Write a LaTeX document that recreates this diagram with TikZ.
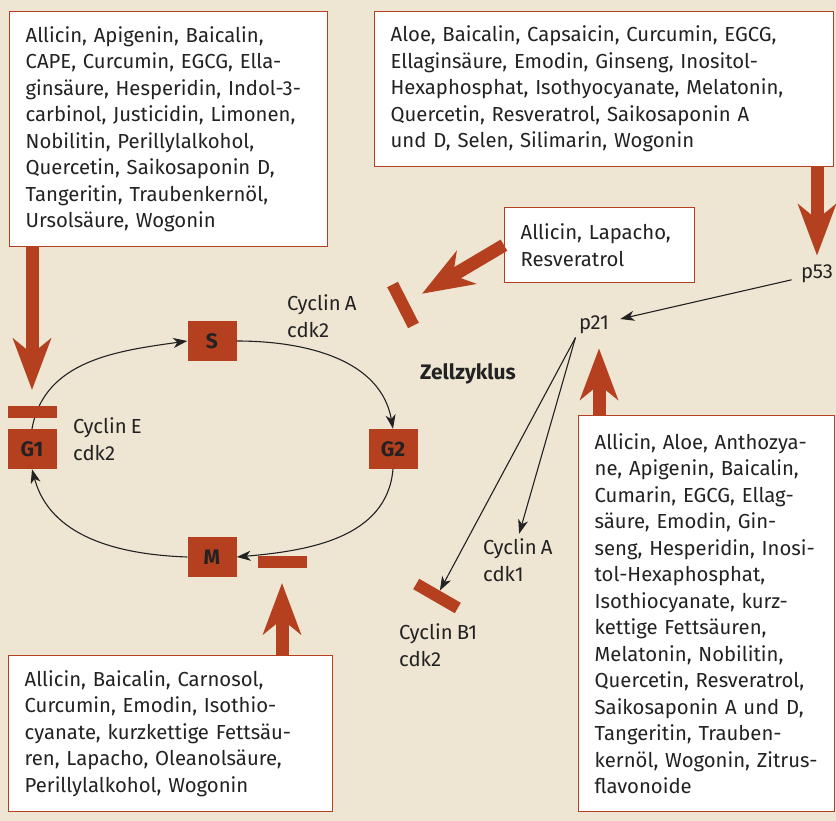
\documentclass[tikz,border=0pt]{standalone}
\usepackage{fontspec}
\setmainfont{Fira Sans}[WordSpace=0.75]
\usepackage{tikz}
\usetikzlibrary{arrows.meta}
\definecolor{zred}{HTML}{B5401F}
\definecolor{zbg}{HTML}{EEE6D3}
\definecolor{ztext}{HTML}{222222}

\begin{document}
\begin{tikzpicture}
  [x=1pt,y=1pt,
   every node/.style={text=ztext,font=\fontsize{20.3}{26.5}\selectfont},
   box/.style={draw=zred,line width=1.3pt,fill=white,anchor=north west,align=left,inner xsep=16pt,inner ysep=0pt},
   phase/.style={fill=zred,minimum width=49pt,minimum height=40pt,inner sep=0pt,font=\fontsize{21}{26}\selectfont\bfseries},
   bar/.style={fill=zred,minimum width=49pt,minimum height=12pt,inner sep=0pt},
   lbl/.style={align=left,anchor=west,inner sep=0pt},
   fat/.style={draw=zred,line width=13pt,-{Stealth[length=52pt,width=39pt,inset=16pt,line width=0pt]}},
   arr/.style={draw=ztext,line width=1.1pt,-{Stealth[length=14pt,width=10pt,inset=4pt]}}]
  \fill[zbg] (0,0) rectangle (836,-821);
  \useasboundingbox (0,0) rectangle (836,-821);
  % substance boxes
  \node[box,text width=286pt,minimum height=235pt] (w1) at (9,-11)
    {Allicin, Apigenin, Baicalin,\\CAPE, Curcumin, EGCG, Ella-\\ginsäure, Hesperidin, Indol-3-\\carbinol, Justicidin, Limonen,\\Nobilitin, Perillylalkohol,\\Quercetin, Saikosaponin D,\\Tangeritin, Traubenkernöl,\\Ursolsäure, Wogonin};
  \node[box,text width=427pt,minimum height=155pt] (w2) at (374,-11)
    {Aloe, Baicalin, Capsaicin, Curcumin, EGCG,\\Ellaginsäure, Emodin, Ginseng, Inositol-\\Hexaphosphat, Isothyocyanate, Melatonin,\\Quercetin, Resveratrol, Saikosaponin A\\und D, Selen, Silimarin, Wogonin};
  \node[box,text width=158pt,minimum height=75pt] (w3) at (504,-207)
    {Allicin, Lapacho,\\Resveratrol};
  \node[box,text width=224pt,minimum height=396pt] (w4) at (578,-415)
    {Allicin, Aloe, Anthozya-\\ne, Apigenin, Baicalin,\\Cumarin, EGCG, Ellag-\\säure, Emodin, Gin-\\seng, Hesperidin, Inosi-\\tol-Hexaphosphat,\\Isothiocyanate, kurz-\\kettige Fettsäuren,\\Melatonin, Nobilitin,\\Quercetin, Resveratrol,\\Saikosaponin A und D,\\Tangeritin, Trauben-\\kernöl, Wogonin, Zitrus-\\flavonoide};
  \node[box,text width=292pt,minimum height=156pt] (w5) at (8,-655)
    {Allicin, Baicalin, Carnosol,\\Curcumin, Emodin, Isothio-\\cyanate, kurzkettige Fettsäu-\\ren, Lapacho, Oleanolsäure,\\Perillylalkohol, Wogonin};
  % cycle phases
  \node[phase] (s) at (212,-341) {S};
  \node[phase] (g1) at (32,-449) {G1};
  \node[phase] (g2) at (393,-449) {G2};
  \node[phase] (m) at (212,-557) {M};
  \foreach \from/\to/\o/\i in {g1.north/s.west/80/188,s.east/g2.north/0/100,g2.south/m.east/-95/5,m.west/g1.south/178/-75}
    \draw[arr] (\from) to[out=\o,in=\i] (\to);
  % blocking bars
  \node[bar] (hE) at (32,-412) {};
  \node[bar] (hM) at (282,-562) {};
  \node[bar,minimum width=46pt,rotate=-63] (hA) at (403,-305) {};
  \node[bar,minimum width=48pt,rotate=-30] (hB) at (437,-596) {};
  % labels
  \node[lbl] (cA2) at (287,-316) {Cyclin A\\cdk2};
  \node[lbl] (cE) at (73,-439) {Cyclin E\\cdk2};
  \node[lbl] (cA1) at (483,-560) {Cyclin A\\cdk1};
  \node[lbl] (cB1) at (399,-645) {Cyclin B1\\cdk2};
  \node (p53) at (817,-274) {p53};
  \node (p21) at (594,-325) {p21};
  \node[font=\fontsize{21}{24}\selectfont\bfseries] (zz) at (468,-374) {Zellzyklus};
  % p53 / p21 pathway
  \draw[arr,shorten <=6pt,shorten >=8pt] (p53) -- (p21);
  \draw[arr,shorten >=5pt] (p21.south west) -- (cA1.north);
  \draw[arr] (p21.south west) -- (hB);
  % substance arrows
  \draw[fat] (w1.south -| hE) -- ([yshift=16pt]hE.north);
  \draw[fat,shorten >=6pt] (w2.south -| p53) -- (p53.north);
  \draw[fat,shorten >=16pt] (w3.west) -- (hA);
  \draw[fat] (w5.north -| hM) -- ([yshift=-15pt]hM.south);
  \draw[fat,shorten >=11pt] (w4.north -| 599,0) -- ([xshift=5pt]p21.south);
\end{tikzpicture}
\end{document}
